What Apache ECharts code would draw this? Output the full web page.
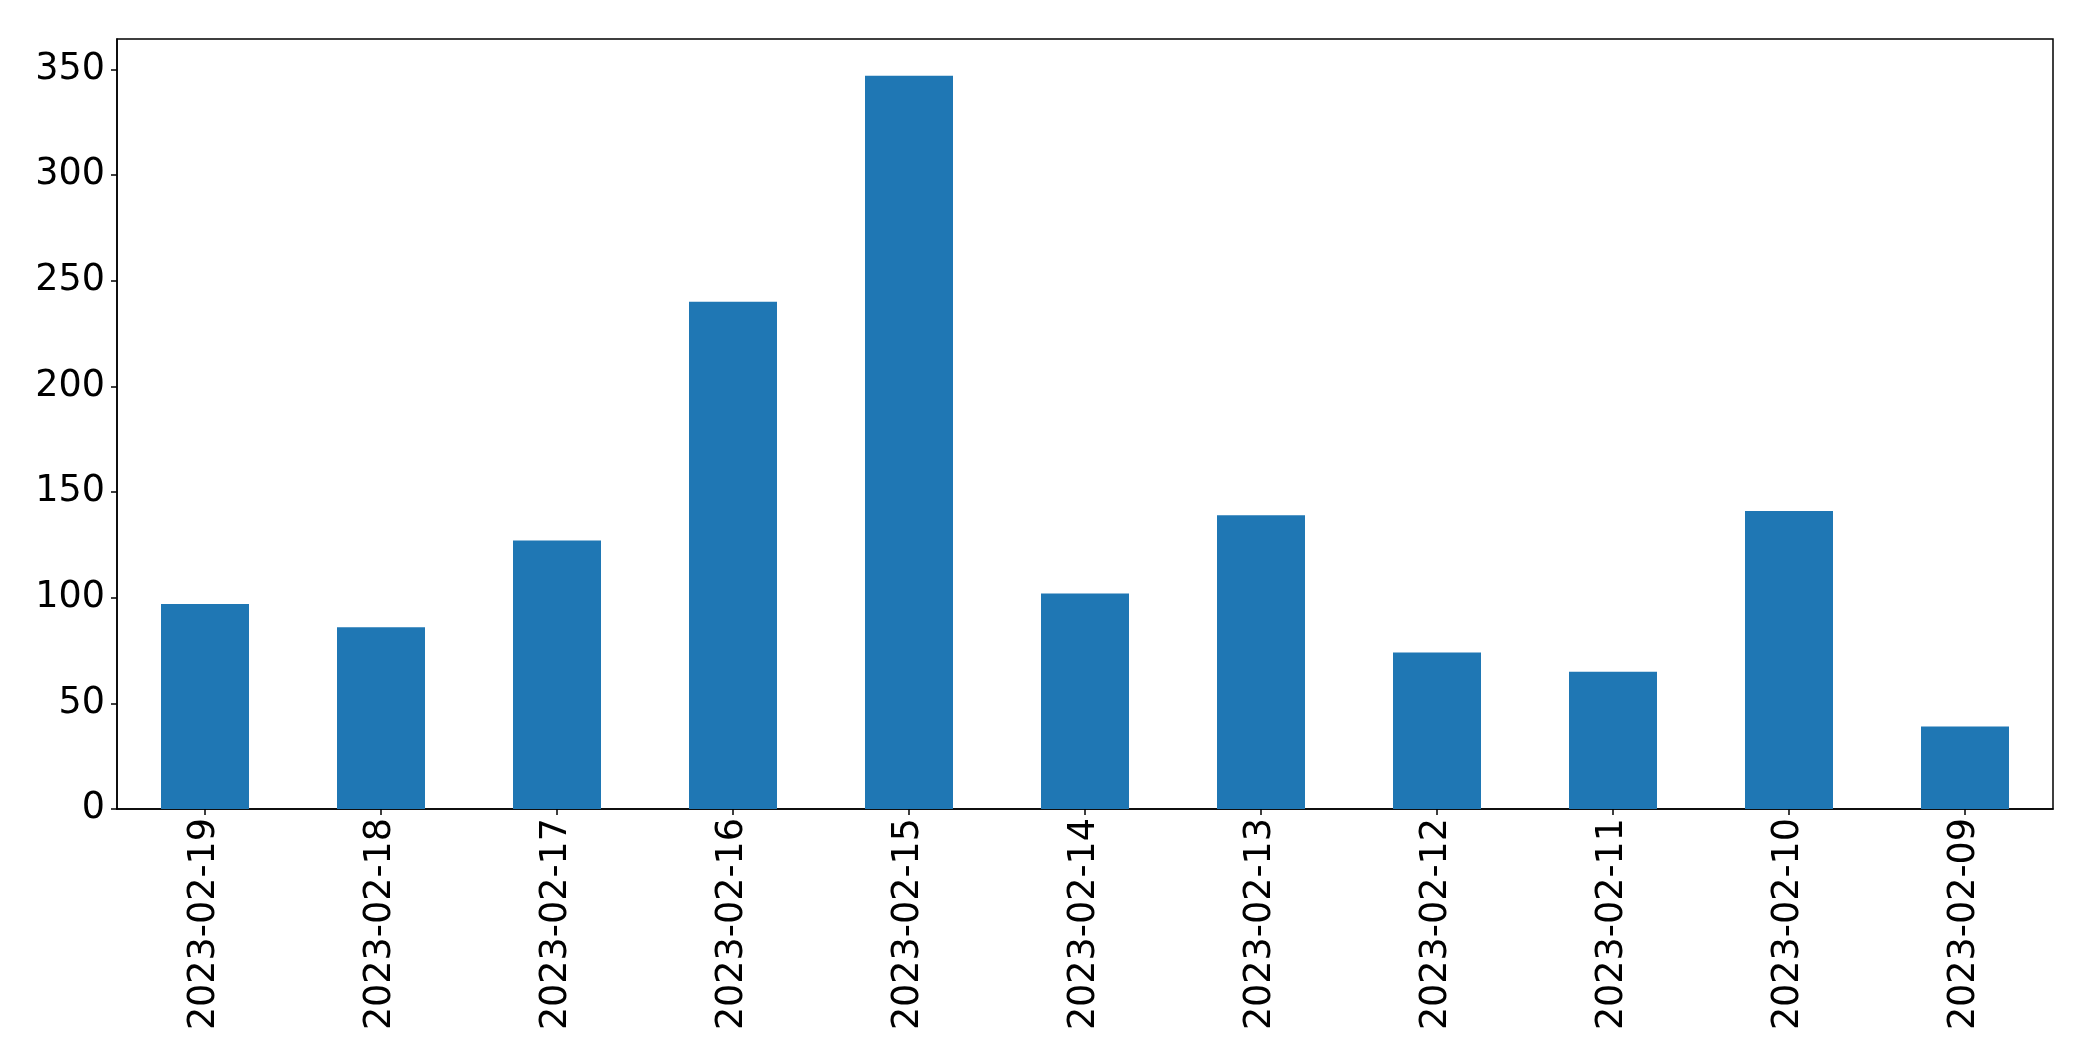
<!DOCTYPE html>
<html>
<head>
<meta charset="utf-8">
<script src="https://cdn.jsdelivr.net/npm/echarts@6/dist/echarts.min.js"></script>
<style>
html,body{margin:0;padding:0;background:#fff;}
#chart{width:2093px;height:1061px;}
</style>
</head>
<body>
<div id="chart"></div>
<script>
const categories = ['2023-02-19','2023-02-18','2023-02-17','2023-02-16','2023-02-15','2023-02-14','2023-02-13','2023-02-12','2023-02-11','2023-02-10','2023-02-09'];
const values = [97, 86, 127, 240, 347, 102, 139, 74, 65, 141, 39];
const yMaxValue = 364.35;
const yInterval = 50;

const chart = echarts.init(document.getElementById('chart'), null, {renderer:'canvas'});
const font = 'DejaVu Sans';
chart.setOption({
  animation: false,
  backgroundColor: '#fff',
  grid: {left: 117, right: 40, top: 39, bottom: 252, show: true, borderColor: '#000', borderWidth: 1.5, backgroundColor: 'transparent'},
  xAxis: {
    type: 'category',
    data: categories,
    boundaryGap: true,
    axisLine: {show: true, lineStyle: {color: '#000', width: 1.5}},
    axisTick: {show: true, alignWithLabel: true, length: 6, lineStyle: {color: '#000', width: 1.5}},
    axisLabel: {rotate: 90, margin: 9, color: '#000', fontSize: 36.5, fontFamily: font, interval: 0},
    splitLine: {show: false}
  },
  yAxis: {
    type: 'value',
    min: 0,
    max: yMaxValue,
    interval: yInterval,
    axisLine: {show: true, lineStyle: {color: '#000', width: 1.5}},
    axisTick: {show: true, length: 6, lineStyle: {color: '#000', width: 1.5}},
    axisLabel: {margin: 12, color: '#000', fontSize: 36.5, fontFamily: font, showMaxLabel: false},
    splitLine: {show: false}
  },
  series: [{
    type: 'bar',
    data: values,
    barWidth: '50%',
    itemStyle: {color: '#1f77b4'}
  }]
});
</script>
</body>
</html>
